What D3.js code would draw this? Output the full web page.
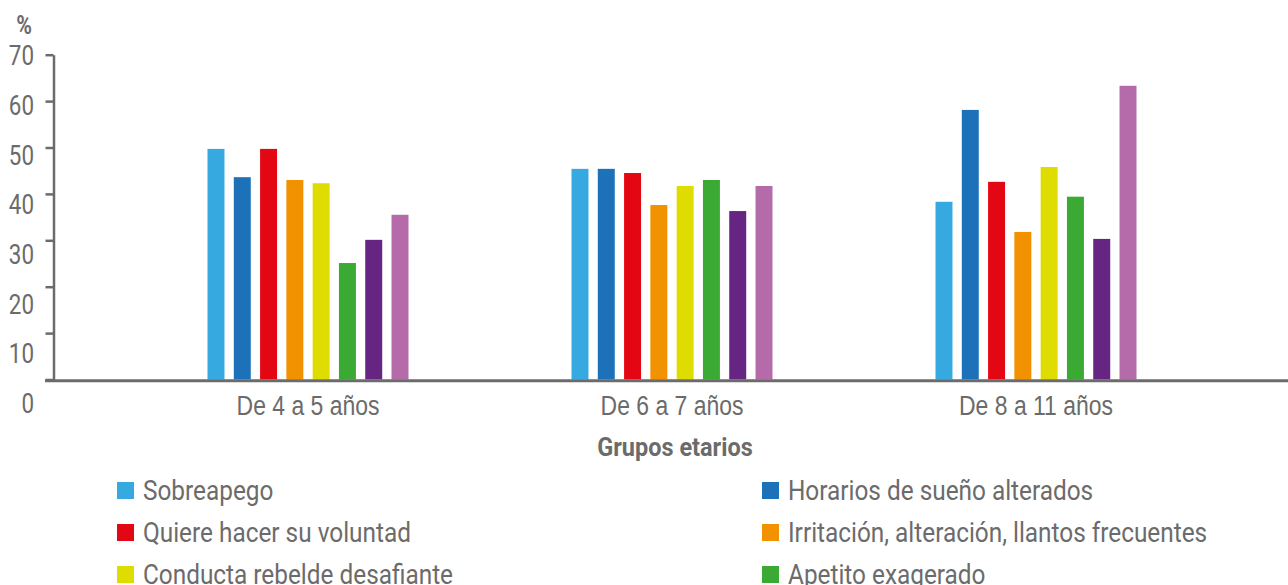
<!DOCTYPE html>
<html lang="es">
<head>
<meta charset="utf-8">
<script src="https://cdn.jsdelivr.net/npm/d3@7"></script>
<style>
  html, body { margin: 0; padding: 0; background: #ffffff; }
  svg { display: block; font-family: Roboto, "Liberation Sans", sans-serif; }
</style>
</head>
<body>
<svg id="chart" width="1288" height="585"></svg>
<script>
// Age groups on the horizontal axis
const groups = ["De 4 a 5 años", "De 6 a 7 años", "De 8 a 11 años"];

// Series (behaviour categories), in drawing order
const seriesKeys = ["s1", "s2", "s3", "s4", "s5", "s6", "s7", "s8"];
const seriesLabels = [
  "Sobreapego",
  "Horarios de sueño alterados",
  "Quiere hacer su voluntad",
  "Irritación, alteración, llantos frecuentes",
  "Conducta rebelde desafiante",
  "Apetito exagerado"
];
const seriesColors = ["#36a9e1", "#1d71b8", "#e30613", "#f39200", "#dedc00", "#3aaa35", "#662483", "#b56aa9"];

// Percentages per age group, one array per group, following seriesKeys
const values4a5 = [49.7, 43.6, 49.7, 43.0, 42.3, 25.1, 30.1, 35.5];
const values6a7 = [45.4, 45.4, 44.5, 37.6, 41.7, 43.0, 36.3, 41.7];
const values8a11 = [38.3, 58.1, 42.6, 31.8, 45.8, 39.4, 30.3, 63.3];

// Y axis tick values
const yTicks = [0, 10, 20, 30, 40, 50, 60, 70];

const table = groups.map((g, i) => ({
  group: g,
  values: [values4a5, values6a7, values8a11][i]
}));

const svg = d3.select("#chart");
const ink = "#6b6b6b";

// Places a text at (x, y) and squeezes it horizontally around its anchor
function placeText(sel, x, y, sx) {
  return sel.attr("x", 0).attr("y", 0)
    .attr("transform", (d, i) => {
      const px = typeof x === "function" ? x(d, i) : x;
      const py = typeof y === "function" ? y(d, i) : y;
      return `translate(${px},${py}) scale(${sx},1)`;
    });
}

// Scales
const y = d3.scaleLinear().domain([0, 70]).range([379.5, 54.7]);
// Tick labels sit on a slightly wider spacing than the tick marks
const yLabel = d3.scaleLinear().domain([0, 70]).range([403, 55]);
const x0 = d3.scaleBand().domain(groups).range([126, 1218]);
const x1 = d3.scaleBand().domain(seriesKeys).range([-100.5, 100.5]).paddingInner(0.354).paddingOuter(0);
const color = d3.scaleOrdinal().domain(seriesKeys).range(seriesColors);

// Bars
const gBars = svg.append("g");
table.forEach(row => {
  const cx = x0(row.group) + x0.bandwidth() / 2;
  gBars.selectAll(null)
    .data(row.values.map((v, i) => ({ key: seriesKeys[i], v })))
    .join("rect")
    .attr("x", d => cx + x1(d.key))
    .attr("width", x1.bandwidth())
    .attr("y", d => y(d.v))
    .attr("height", d => y(0) - y(d.v))
    .attr("fill", d => color(d.key));
});

// Y axis: ticks from the scale, labels placed separately
const yAxis = svg.append("g")
  .attr("transform", "translate(53.5,0)")
  .call(d3.axisLeft(y).tickValues(yTicks).tickSize(8).tickSizeOuter(0).tickFormat(""));
yAxis.select(".domain").attr("stroke", ink).attr("stroke-width", 2.5);
yAxis.selectAll(".tick line").attr("stroke", ink).attr("stroke-width", 2.5);

placeText(
  svg.append("g").selectAll("text")
    .data(yTicks)
    .join("text")
    .attr("dy", "0.36em")
    .attr("text-anchor", "end")
    .attr("fill", ink)
    .attr("font-size", 28)
    .text(d => d),
  34, d => yLabel(d), 0.8);

placeText(
  svg.append("text")
    .attr("text-anchor", "middle")
    .attr("fill", ink)
    .attr("font-size", 25)
    .attr("font-weight", "bold")
    .text("%"),
  24, 34, 0.85);

// X axis: baseline and group labels
svg.append("line")
  .attr("x1", 45).attr("x2", 1288)
  .attr("y1", 380.8).attr("y2", 380.8)
  .attr("stroke", ink).attr("stroke-width", 3);

const xAxis = svg.append("g")
  .attr("transform", "translate(0,381)")
  .call(d3.axisBottom(x0).tickSize(0).tickPadding(0));
xAxis.select(".domain").remove();
placeText(
  xAxis.selectAll(".tick text")
    .attr("dy", 0)
    .attr("fill", ink)
    .attr("font-size", 27)
    .attr("font-family", null),
  0, 34, 0.85);

placeText(
  svg.append("text")
    .attr("text-anchor", "middle")
    .attr("fill", ink)
    .attr("font-size", 25)
    .attr("font-weight", "bold")
    .text("Grupos etarios"),
  675, 456, 0.94);

// Legend: two columns, three rows
const legend = svg.append("g");
const legendItems = legend.selectAll("g")
  .data(seriesLabels.map((label, i) => ({ label, key: seriesKeys[i], i })))
  .join("g")
  .attr("transform", d => `translate(${d.i % 2 === 0 ? 117 : 762},${482 + Math.floor(d.i / 2) * 42})`);
legendItems.append("rect")
  .attr("width", 17).attr("height", 17)
  .attr("fill", d => color(d.key));
placeText(
  legendItems.append("text")
    .attr("fill", ink)
    .attr("font-size", 28)
    .text(d => d.label),
  26, 18, 0.87);
</script>
</body>
</html>
